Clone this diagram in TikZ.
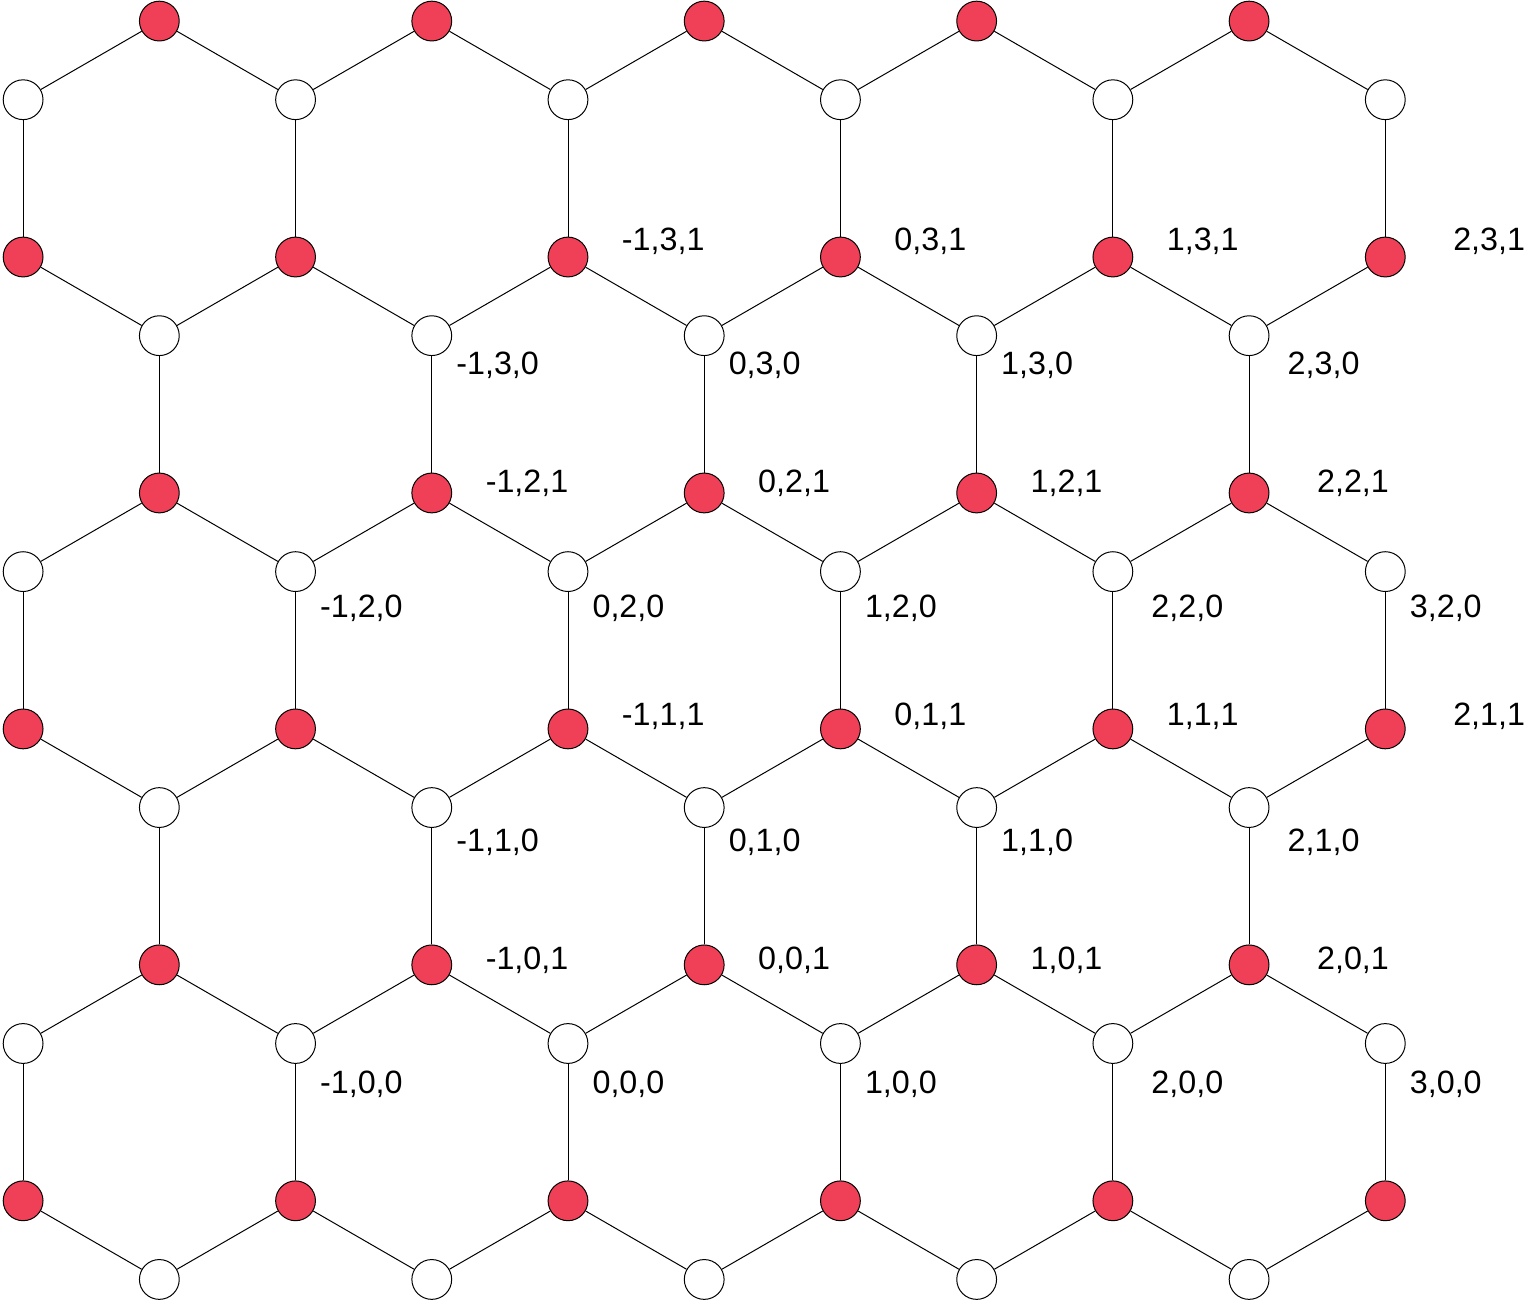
\documentclass[tikz,border=0pt]{standalone}
\usepackage{fontspec}
\setmainfont{Liberation Sans}
\definecolor{Sitered}{RGB}{240,64,88}

\begin{document}
\begin{tikzpicture}[x=2.5cm,y=2.5cm,line width=0.45pt,
  wsite/.style={circle,draw,fill=white,minimum size=18pt,inner sep=0pt},
  rsite/.style={circle,draw,fill=Sitered,minimum size=18pt,inner sep=0pt},
  lbl/.style={anchor=base west,inner sep=0pt,font=\fontsize{14.6}{17}\selectfont}]
\useasboundingbox (-3.611,-1.653) rectangle (6.084,6.634);
% sites: w = white (k=0), r = red (k=1)
\foreach \j in {-1,...,4}{
  \pgfmathtruncatemacro\jodd{mod(\j+2,2)}
  \pgfmathtruncatemacro\wmax{3-\jodd}
  \pgfmathtruncatemacro\rmin{-2-\jodd}
  \foreach \i in {-2,...,\wmax}
    \node[wsite] (w\i-\j) at ({1.732*\i+0.866*\jodd},{1.5*\j}) {};
  \foreach \i in {\rmin,...,2}
    \node[rsite] (r\i-\j) at ({1.732*\i+0.866*\jodd+0.866},{1.5*\j+0.5}) {};
}
% bonds
\foreach \j in {-1,...,4}{
  \pgfmathtruncatemacro\jodd{mod(\j+2,2)}
  \pgfmathtruncatemacro\jj{\j+1}
  \foreach \i in {-3,...,2}{
    \pgfmathtruncatemacro\ii{\i+1}
    \ifnum\jodd=0
      \ifnum\i>-3
        \draw (r\i-\j) -- (w\i-\j) (r\i-\j) -- (w\ii-\j);
        \ifnum\j<4 \draw (r\i-\j) -- (w\i-\jj); \fi
      \fi
    \else
      \ifnum\i>-3 \draw (r\i-\j) -- (w\i-\j); \fi
      \ifnum\i<2 \draw (r\i-\j) -- (w\ii-\j); \fi
      \draw (r\i-\j) -- (w\ii-\jj);
    \fi
  }
}
% labels i,j,k
\foreach \j/\wdy/\rdy in {0/-0.320/-0.028,1/-0.277/0.024,2/-0.294/0.001,3/-0.249/0.039}{
  \pgfmathtruncatemacro\jodd{mod(\j,2)}
  \pgfmathtruncatemacro\wmax{3-\jodd}
  \foreach \i in {-1,...,\wmax}{
    \pgfmathsetmacro\dx{\i==2 ? 0.089 : 0}
    \path (w\i-\j) ++({0.153+\dx},\wdy) node[lbl] (lw\i-\j) {\i,\j,0};
  }
  \foreach \i in {-1,...,2}{
    \pgfmathsetmacro\dx{\i==2 ? 0.089 : 0}
    \path (r\i-\j) ++({0.340+\dx},\rdy) node[lbl] (lr\i-\j) {\i,\j,1};
  }
}
\end{tikzpicture}
\end{document}
